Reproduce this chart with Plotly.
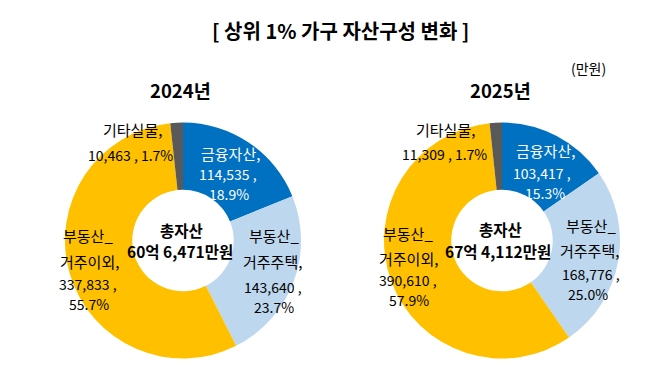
import plotly.graph_objects as go

# ---------------- data ----------------
categories = ["금융자산", "부동산_거주주택", "부동산_거주이외", "기타실물"]
years = ["2024년", "2025년"]
values_2024 = [114535, 143640, 337833, 10463]
values_2025 = [103417, 168776, 390610, 11309]
pct_2024 = [18.9, 23.7, 55.7, 1.7]
pct_2025 = [15.3, 25.0, 57.9, 1.7]
title_text = "[ 상위 1% 가구 자산구성 변화 ]"
unit_text = "(만원)"
center_label = "총자산"

# ---------------- style / layout ----------------
W, H = 658, 371
colors = ["#0070C0", "#BDD7EE", "#FFC000", "#595959"]
label_colors = ["white", "black", "black", "black"]
FONT = "Noto Sans CJK KR"
R = 118
centers = [(175, 232.5), (494, 232.5)]

# label line pixel positions (per chart, per category)
label_pos = [
    [[(222, 145), (220, 166), (221, 186)],
     [(266, 227), (264, 253), (265, 279), (266, 299)],
     [(80, 227), (81, 253), (80, 276), (81, 296)],
     [(124, 122), (122, 147)]],
    [[(537, 143), (534, 165), (537, 185)],
     [(583, 217), (581, 242), (583, 266), (580, 286)],
     [(400, 225), (400, 250), (400, 272), (401, 292)],
     [(437, 122), (436, 146)]],
]
center_pos = [[(173, 222), (172, 243)], [(492, 221), (490, 243)]]
year_pos = [(172, 82), (492, 82)]


def px(x, y):
    return x / W, 1 - y / H


def total_text(vals):
    t = sum(vals)
    return f"{t // 10000}억 {t % 10000:,}만원"


def label_lines(cat, v, p, idx):
    if "_" in cat:
        a, b = cat.split("_", 1)
        name = [a + "_", b + ","]
    else:
        name = [cat + ","]
    if idx == 3:
        nums = [f"{v:,} , {p}%"]
    else:
        nums = [f"{v:,} ,", f"{p}%"]
    return name, nums


def ann(x, y, text, size, color="black"):
    return dict(x=x, y=y, xref="paper", yref="paper", text=text, showarrow=False,
                xanchor="center", yanchor="middle", borderpad=0,
                font=dict(family=FONT, size=size, color=color))


fig = go.Figure()
annotations = []
for k, (vals, pcts) in enumerate([(values_2024, pct_2024), (values_2025, pct_2025)]):
    cx, cy = centers[k]
    fig.add_trace(go.Pie(
        labels=categories, values=vals, sort=False, direction="clockwise",
        rotation=0, hole=0.43, textinfo="none", hoverinfo="label+value+percent",
        marker=dict(colors=colors, line=dict(color="white", width=0)),
        domain=dict(x=[(cx - R) / W, (cx + R) / W],
                    y=[(H - cy - R) / H, (H - cy + R) / H]),
        showlegend=False,
    ))
    for i, cat in enumerate(categories):
        name, nums = label_lines(cat, vals[i], pcts[i], i)
        lines = [(t, 15) for t in name] + [(t, 14) for t in nums]
        for (t, fs), (lx, ly) in zip(lines, label_pos[k][i]):
            x, y = px(lx, ly)
            annotations.append(ann(x, y, t, fs, label_colors[i]))
    for t, (lx, ly) in zip([center_label, total_text(vals)], center_pos[k]):
        x, y = px(lx, ly)
        annotations.append(ann(x, y, f"<b>{t}</b>", 15.5))
    x, y = px(*year_pos[k])
    annotations.append(ann(x, y, f"<b>{years[k]}</b>", 18.5))

x, y = px(332, 22)
annotations.append(ann(x, y, f"<b>{title_text}</b>", 20))
x, y = px(580, 60)
annotations.append(ann(x, y, unit_text, 14))

fig.update_layout(width=W, height=H, margin=dict(l=0, r=0, t=0, b=0),
                  paper_bgcolor="white", plot_bgcolor="white",
                  annotations=annotations)
fig.write_html("out.html")
